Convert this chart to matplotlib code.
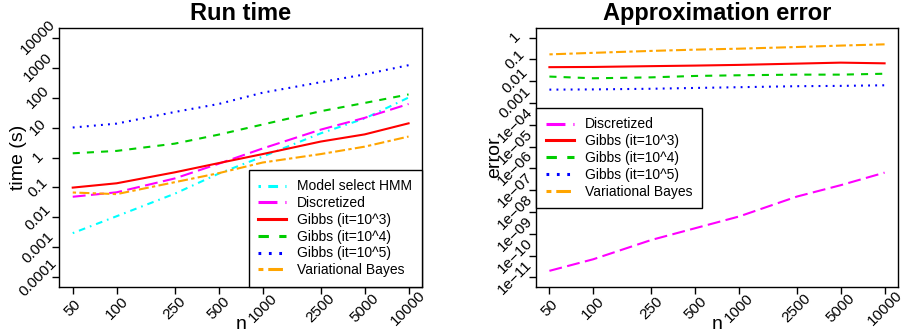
import numpy as np
import matplotlib
matplotlib.use('Agg')
import matplotlib.pyplot as plt

plt.rcParams['font.family'] = ['Liberation Sans', 'DejaVu Sans']

n = [50, 100, 250, 500, 1000, 2500, 5000, 10000]
n_labels = ['50', '100', '250', '500', '1000', '2500', '5000', '10000']

# run time (s)
time_hmm = [0.003, 0.011, 0.062, 0.29, 1.07, 6.4, 20, 100]
time_disc = [0.049, 0.069, 0.2, 0.62, 2.0, 8.5, 21, 61]
time_gibbs3 = [0.099, 0.138, 0.32, 0.65, 1.3, 3.4, 5.9, 13.8]
time_gibbs4 = [1.38, 1.66, 2.9, 5.8, 12.6, 35, 66, 127]
time_gibbs5 = [10, 13.5, 33, 61, 145, 325, 590, 1200]
time_vb = [0.068, 0.06, 0.15, 0.30, 0.68, 1.3, 2.3, 5.0]

# approximation error
err_disc = [2e-11, 6.8e-11, 5.2e-10, 1.8e-9, 6.2e-9, 5.1e-8, 1.7e-7, 6.4e-7]
err_gibbs3 = [0.044, 0.045, 0.049, 0.052, 0.056, 0.064, 0.071, 0.066]
err_gibbs4 = [0.0163, 0.0136, 0.015, 0.0174, 0.0187, 0.020, 0.020, 0.022]
err_gibbs5 = [0.0041, 0.0042, 0.0045, 0.0049, 0.0053, 0.0059, 0.0061, 0.0065]
err_vb = [0.17, 0.2, 0.245, 0.28, 0.31, 0.37, 0.43, 0.49]

time_ticks = [1e-4, 1e-3, 1e-2, 0.1, 1, 10, 100, 1000, 10000]
time_ticklabels = ['0.0001', '0.001', '0.01', '0.1', '1', '10', '100', '1000', '10000']
err_ticks = [10.0**k for k in range(-11, 1)]
err_ticklabels = ['1e\u2212%02d' % -k for k in range(-11, -3)] + ['0.001', '0.01', '0.1', '1']

# R-like line types (in linewidth units)
lw = 1.5
sty = {
    'hmm':    dict(color='#00FFFF', ls=(0, (0.8, 2.4, 3.2, 2.4))),
    'disc':   dict(color='#FF00FF', ls=(0, (6.2, 2.6))),
    'gibbs3': dict(color='#FF0000', ls='-'),
    'gibbs4': dict(color='#00CD00', ls=(0, (3.4, 3.4))),
    'gibbs5': dict(color='#0000FF', ls=(0, (0.9, 2.5))),
    'vb':     dict(color='#FFA500', ls=(0, (1.6, 1.6, 4.8, 1.6))),
}

fig = plt.figure(figsize=(9.04, 3.32), dpi=100)
ax1 = fig.add_axes([59.3/904, 1-287/332, 362.7/904, 259/332])
ax2 = fig.add_axes([536/904, 1-287/332, 362/904, 259/332])

ax1.plot(n, time_hmm, lw=lw, label='Model select HMM', **sty['hmm'])
ax1.plot(n, time_disc, lw=lw, label='Discretized', **sty['disc'])
ax1.plot(n, time_gibbs3, lw=lw, label='Gibbs (it=10^3)', **sty['gibbs3'])
ax1.plot(n, time_gibbs4, lw=lw, label='Gibbs (it=10^4)', **sty['gibbs4'])
ax1.plot(n, time_gibbs5, lw=lw, label='Gibbs (it=10^5)', **sty['gibbs5'])
ax1.plot(n, time_vb, lw=lw, label='Variational Bayes', **sty['vb'])

ax2.plot(n, err_disc, lw=lw, label='Discretized', **sty['disc'])
ax2.plot(n, err_gibbs3, lw=lw, label='Gibbs (it=10^3)', **sty['gibbs3'])
ax2.plot(n, err_gibbs4, lw=lw, label='Gibbs (it=10^4)', **sty['gibbs4'])
ax2.plot(n, err_gibbs5, lw=lw, label='Gibbs (it=10^5)', **sty['gibbs5'])
ax2.plot(n, err_vb, lw=lw, label='Variational Bayes', **sty['vb'])

def r_style(ax, yticks, yticklabels, ylo, yhi, title, ylabel):
    ax.set_xscale('log')
    ax.set_yscale('log')
    xr = np.log10(n[-1]) - np.log10(n[0])
    ax.set_xlim(10**(np.log10(n[0]) - 0.04*xr), 10**(np.log10(n[-1]) + 0.04*xr))
    yr = np.log10(yhi) - np.log10(ylo)
    ax.set_ylim(10**(np.log10(ylo) - 0.04*yr), 10**(np.log10(yhi) + 0.04*yr))
    ax.minorticks_off()
    ax.set_xticks(n)
    ax.set_xticklabels(n_labels, rotation=45, ha='center', va='center', fontsize=11)
    ax.set_yticks(yticks)
    ax.set_yticklabels(yticklabels, rotation=45, ha='center', va='center', fontsize=11)
    ax.tick_params(direction='out', length=5, width=1, pad=10)
    for s in ax.spines.values():
        s.set_linewidth(1)
        s.set_color('black')
    ax.set_title(title, fontsize=17, fontweight='bold', pad=5.8)
    ax.set_ylabel(ylabel, fontsize=14, va='center')
    ax.yaxis.set_label_coords(-41/362, 0.5)
    ax.set_xlabel('n', fontsize=14, va='baseline')
    ax.xaxis.set_label_coords(0.5, -42/259)

r_style(ax1, time_ticks, time_ticklabels, 1e-4, 1e4, 'Run time', 'time (s)')
r_style(ax2, err_ticks, err_ticklabels, 1e-11, 1, 'Approximation error', 'error')

leg_kw = dict(fontsize=10, frameon=True, fancybox=False, edgecolor='black', framealpha=1,
              handlelength=2.0, handletextpad=0.8, labelspacing=0.2, borderpad=0.7)
leg1 = ax1.legend(loc='lower right', bbox_to_anchor=(1, 0), borderaxespad=0, **leg_kw)
leg2 = ax2.legend(loc='upper left', bbox_to_anchor=(0, 0.692), borderaxespad=0, **leg_kw)
for leg in (leg1, leg2):
    leg.get_frame().set_linewidth(1)
    for h in leg.legend_handles:
        h.set_linewidth(2.2)

fig.savefig('out.png', dpi=100)
